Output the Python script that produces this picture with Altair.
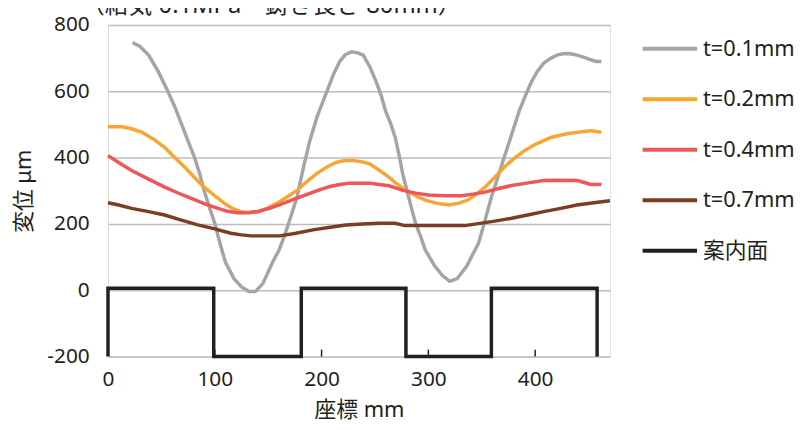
import altair as alt
import pandas as pd

# ---- data ----
series_names = ["t=0.1mm", "t=0.2mm", "t=0.4mm", "t=0.7mm", "案内面"]
series_colors = ["#A5A5A5", "#F8A531", "#EE5659", "#7A3E22", "#231F20"]

x_01 = [23, 30, 38, 47, 56, 63, 69, 75, 81, 86, 90, 95, 100, 105, 110, 118, 125, 132, 138,
        145, 154, 160, 165, 171, 177, 183, 189, 196, 205, 211, 217, 222, 228, 234, 239,
        245, 251, 256, 260, 265, 269, 273, 276, 280, 284, 288, 293, 297, 302, 306, 313,
        320, 327, 336, 341, 347, 353, 359, 365, 371, 376, 381, 385, 390, 396, 402, 408,
        415, 421, 427, 433, 439, 446, 452, 457, 462]
y_01 = [747, 735, 709, 660, 600, 550, 500, 450, 401, 350, 301, 250, 202, 140, 84, 35, 10, -4, -4,
        20, 84, 120, 162, 220, 281, 370, 451, 525, 600, 650, 690, 710, 719, 716, 709,
        675, 630, 585, 540, 500, 460, 401, 350, 301, 250, 202, 160, 122, 95, 73, 45,
        27, 35, 73, 105, 142, 210, 281, 340, 401, 450, 500, 540, 580, 625, 660, 685,
        700, 710, 714, 713, 709, 702, 695, 690, 690]

x_02 = [0, 13, 22, 32, 43, 53, 62, 72, 81, 90, 100, 109, 117, 124, 132, 140, 149, 158, 168,
        177, 186, 195, 205, 214, 222, 229, 237, 245, 253, 263, 270, 279, 288, 297, 308, 319,
        328, 337, 345, 353, 362, 371, 380, 390, 399, 408, 414, 421, 430, 439, 446, 452, 457, 462]
y_02 = [493, 493, 487, 476, 455, 431, 402, 371, 340, 311, 285, 262, 246, 237, 234, 237, 247, 262, 282,
        301, 327, 351, 372, 386, 391, 391, 388, 381, 364, 341, 322, 301, 285, 272, 262, 257,
        262, 272, 290, 311, 340, 371, 397, 421, 438, 451, 460, 466, 472, 476, 479, 481, 479, 476]

x_04 = [0, 11, 22, 38, 53, 65, 78, 90, 103, 112, 121, 130, 140, 152, 164, 177, 189, 198, 208,
        217, 226, 245, 254, 263, 270, 276, 288, 300, 315, 331, 342, 353, 365, 378, 392, 408,
        420, 439, 446, 452, 462]
y_04 = [406, 383, 361, 335, 311, 294, 277, 261, 247, 238, 234, 234, 237, 248, 262, 278, 292, 303, 313,
        319, 323, 323, 319, 315, 308, 301, 293, 287, 285, 285, 290, 296, 306, 316, 323, 331,
        332, 331, 325, 319, 319]

x_07 = [0, 10, 22, 38, 53, 68, 84, 100, 115, 125, 134, 148, 161, 176, 192, 208, 223, 238, 254,
        269, 278, 300, 334, 353, 365, 378, 393, 408, 424, 439, 455, 470]
y_07 = [264, 257, 247, 237, 227, 212, 197, 185, 172, 167, 164, 164, 164, 172, 182, 190, 197, 200, 202,
        202, 195, 195, 195, 204, 210, 217, 227, 237, 247, 257, 264, 270]

guide_edges = [0, 99, 181, 279, 359, 458]   # left/right edge of each guide surface
guide_top = 6
guide_bottom = -200

x_ticks = [100, 200, 300, 400]
title_text = "（給気 0.1MPa　鋳き長さ 80mm）"

# ---- build table ----
rows = []


def add(name, xs, ys):
    for i, (a, b) in enumerate(zip(xs, ys)):
        rows.append({"series": name, "x": a, "y": b, "i": i})


gx, gy = [], []
for k in range(0, len(guide_edges), 2):
    l, r = guide_edges[k], guide_edges[k + 1]
    gx += [l, l, r, r]
    gy += [guide_bottom, guide_top, guide_top, guide_bottom]

add(series_names[0], x_01, y_01)
add(series_names[1], x_02, y_02)
add(series_names[2], x_04, y_04)
add(series_names[3], x_07, y_07)
add(series_names[4], gx, gy)
df = pd.DataFrame(rows)

FONT = "Noto Sans, Noto Sans CJK JP"
INK = "#231F20"
W, H = 507, 335

xscale = alt.Scale(domain=[0, 470], nice=False, zero=False)
yscale = alt.Scale(domain=[-200, 800], nice=False, zero=False)

lines = alt.Chart(df).mark_line(strokeWidth=3.5).encode(
    x=alt.X("x:Q", scale=xscale, title="座標 mm",
            axis=alt.Axis(values=[0, 100, 200, 300, 400], grid=False, ticks=False, domain=False,
                          labelFlush=False,
                          labelPadding=12, labelFontSize=21, labelFont=FONT, labelColor=INK,
                          titleFontSize=22, titleFont=FONT, titleColor=INK, titleFontWeight="normal",
                          titleY=54, titleBaseline="middle")),
    y=alt.Y("y:Q", scale=yscale, title="変位 μm",
            axis=alt.Axis(values=list(range(-200, 801, 100)),
                          labelExpr="datum.value % 200 == 0 ? toString(datum.value) : ''",
                          grid=True, gridColor="#BDBDBD", gridWidth=1.5, ticks=False, domain=False,
                          labelPadding=19, labelFontSize=21, labelFont=FONT, labelColor=INK,
                          titleFontSize=22, titleFont=FONT, titleColor=INK, titleFontWeight="normal",
                          titleX=-85, titleY=H / 2, titleAlign="center", titleBaseline="middle")),
    color=alt.Color("series:N", scale=alt.Scale(domain=series_names, range=series_colors),
                    sort=series_names, title=None,
                    legend=alt.Legend(orient="none", legendX=538, legendY=-5.5,
                                      symbolType="stroke", symbolSize=3025, symbolStrokeWidth=4,
                                      labelFontSize=22, labelFont=FONT, labelColor=INK,
                                      labelOffset=4, rowPadding=10, padding=0)),
    order=alt.Order("i:Q"),
)

ticks = alt.Chart(pd.DataFrame({"x": x_ticks})).mark_rule(color=INK, strokeWidth=1.5).encode(
    x=alt.X("x:Q", scale=xscale, title="座標 mm"),
    y=alt.datum(-200),
    y2=alt.datum(-179),
)

title = alt.Chart(pd.DataFrame({"t": [title_text]})).mark_text(
    fontSize=24, font=FONT, color=INK, align="center", baseline="alphabetic"
).encode(x=alt.value(165), y=alt.value(-12), text="t:N")

chart = alt.layer(lines, ticks, title).properties(
    width=W, height=H,
    autosize=alt.AutoSizeParams(type="none"),
    padding={"left": 101, "top": 15, "right": 192, "bottom": 70},
).configure_view(stroke=INK, strokeWidth=2).configure(background="white")

chart.save("out.html", embed_options={"renderer": "svg", "actions": False})
